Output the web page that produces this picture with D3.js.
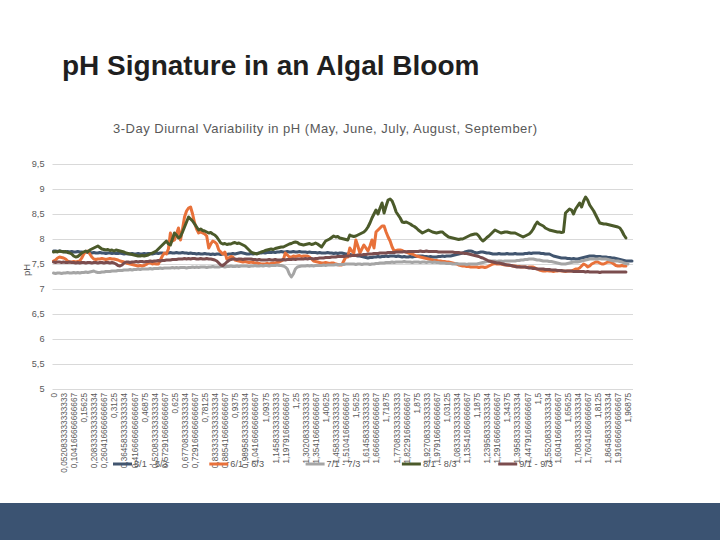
<!DOCTYPE html>
<html lang="en">
<head>
<meta charset="UTF-8">
<title>pH Signature in an Algal Bloom</title>
<script src="https://d3js.org/d3.v7.min.js"></script>
<style>
    body { margin: 0; background: #fff; font-family: "Liberation Sans", Arial, sans-serif; }
    #chart { display: block; }
    .grid line { stroke: #d9d9d9; stroke-width: 1px; }
    .grid path { display: none; }
    .axis path { display: none; }
    .axis text { fill: #595959; }
    .series { fill: none; stroke-width: 3px; stroke-linejoin: round; stroke-linecap: round; }
</style>
</head>
<body>
<svg id="chart" width="720" height="540"></svg>
<script>
// 15-minute readings over 3 days, labels every 5th reading
const nPoints = 288;
const labelEvery = 5;

const xTickLabels = [
    "0", "0,0520833333333333", "0,104166666666667", "0,15625", "0,208333333333334",
    "0,260416666666667", "0,3125", "0,364583333333334", "0,416666666666667", "0,46875",
    "0,520833333333334", "0,572916666666667", "0,625", "0,677083333333334", "0,729166666666667",
    "0,78125", "0,833333333333334", "0,885416666666667", "0,9375", "0,989583333333334",
    "1,04166666666667", "1,09375", "1,14583333333333", "1,19791666666667", "1,25",
    "1,30208333333333", "1,35416666666667", "1,40625", "1,45833333333333", "1,51041666666667",
    "1,5625", "1,61458333333333", "1,66666666666667", "1,71875", "1,77083333333333",
    "1,82291666666667", "1,875", "1,92708333333333", "1,97916666666667",
    "1,03125", "1,08333333333334", "1,13541666666667", "1,1875", "1,23958333333334",
    "1,29166666666667", "1,34375", "1,39583333333334", "1,44791666666667", "1,5",
    "1,55208333333334", "1,60416666666667", "1,65625", "1,70833333333334", "1,76041666666667",
    "1,8125", "1,86458333333334", "1,91666666666667", "1,96875"
];

const yTicks = [5, 5.5, 6, 6.5, 7, 7.5, 8, 8.5, 9, 9.5];

const seriesNames = ["5/1 - 5/3", "6/1 - 6/3", "7/1 - 7/3", "8/1 - 8/3", "9/1 - 9/3"];
const seriesColors = ["#41556f", "#e8713a", "#a5a5a5", "#4b5a2a", "#7b4d4e"];

const may = [
    7.76, 7.76, 7.75, 7.76, 7.75, 7.75, 7.74, 7.75, 7.74, 7.75, 7.74, 7.74,
    7.75, 7.74, 7.74, 7.73, 7.74, 7.73, 7.73, 7.72, 7.73, 7.72, 7.72, 7.73,
    7.72, 7.72, 7.71, 7.72, 7.72, 7.71, 7.72, 7.71, 7.71, 7.72, 7.71, 7.70,
    7.71, 7.70, 7.70, 7.71, 7.70, 7.70, 7.71, 7.70, 7.70, 7.71, 7.70, 7.71,
    7.71, 7.70, 7.71, 7.72, 7.71, 7.72, 7.72, 7.71, 7.72, 7.72, 7.73, 7.72,
    7.72, 7.73, 7.72, 7.72, 7.73, 7.72, 7.72, 7.71, 7.72, 7.71, 7.71, 7.70,
    7.71, 7.70, 7.70, 7.71, 7.70, 7.70, 7.69, 7.70, 7.69, 7.70, 7.70, 7.69,
    7.70, 7.70, 7.69, 7.70, 7.70, 7.71, 7.70, 7.71, 7.72, 7.73, 7.72, 7.71,
    7.70, 7.70, 7.71, 7.70, 7.71, 7.71, 7.72, 7.72, 7.73, 7.72, 7.73, 7.73,
    7.73, 7.74, 7.73, 7.74, 7.74, 7.75, 7.74, 7.74, 7.75, 7.74, 7.74, 7.75,
    7.74, 7.74, 7.75, 7.74, 7.74, 7.74, 7.73, 7.74, 7.73, 7.73, 7.73, 7.72,
    7.73, 7.72, 7.72, 7.72, 7.73, 7.72, 7.72, 7.71, 7.72, 7.71, 7.72, 7.72,
    7.71, 7.70, 7.70, 7.69, 7.68, 7.68, 7.67, 7.66, 7.66, 7.65, 7.64, 7.63,
    7.62, 7.63, 7.63, 7.64, 7.64, 7.65, 7.64, 7.65, 7.65, 7.66, 7.65, 7.66,
    7.66, 7.66, 7.65, 7.66, 7.65, 7.64, 7.65, 7.64, 7.64, 7.65, 7.64, 7.65,
    7.65, 7.66, 7.66, 7.66, 7.65, 7.65, 7.64, 7.65, 7.64, 7.64, 7.64, 7.65,
    7.65, 7.66, 7.65, 7.66, 7.66, 7.66, 7.67, 7.68, 7.69, 7.70, 7.71, 7.72,
    7.74, 7.75, 7.76, 7.76, 7.75, 7.73, 7.72, 7.73, 7.74, 7.74, 7.73, 7.72,
    7.72, 7.71, 7.70, 7.70, 7.70, 7.71, 7.70, 7.70, 7.70, 7.71, 7.70, 7.70,
    7.70, 7.71, 7.70, 7.70, 7.70, 7.70, 7.71, 7.71, 7.72, 7.71, 7.72, 7.72,
    7.72, 7.72, 7.71, 7.71, 7.70, 7.70, 7.70, 7.68, 7.66, 7.65, 7.64, 7.63,
    7.62, 7.62, 7.62, 7.61, 7.61, 7.60, 7.61, 7.60, 7.60, 7.61, 7.62, 7.63,
    7.64, 7.65, 7.66, 7.66, 7.66, 7.65, 7.65, 7.65, 7.64, 7.64, 7.64, 7.63,
    7.63, 7.62, 7.62, 7.61, 7.60, 7.59, 7.58, 7.57, 7.56, 7.56, 7.56, 7.56
];

const june = [
    7.56, 7.58, 7.62, 7.64, 7.63, 7.62, 7.60, 7.56, 7.54, 7.54, 7.55, 7.54,
    7.55, 7.56, 7.62, 7.70, 7.74, 7.76, 7.70, 7.64, 7.60, 7.59, 7.60, 7.60,
    7.61, 7.60, 7.59, 7.60, 7.61, 7.60, 7.60, 7.59, 7.58, 7.56, 7.55, 7.54,
    7.52, 7.51, 7.50, 7.49, 7.48, 7.47, 7.46, 7.47, 7.46, 7.47, 7.49, 7.52,
    7.52, 7.50, 7.51, 7.50, 7.50, 7.58, 7.66, 7.72, 7.70, 7.80, 8.12, 7.96,
    7.98, 8.10, 8.22, 7.98, 8.20, 8.44, 8.56, 8.62, 8.64, 8.50, 8.32, 8.20,
    8.12, 8.14, 8.12, 8.10, 8.06, 7.82, 7.90, 7.96, 7.94, 7.90, 7.78, 7.74,
    7.70, 7.74, 7.60, 7.62, 7.65, 7.64, 7.58, 7.57, 7.56, 7.55, 7.54, 7.55,
    7.54, 7.53, 7.54, 7.53, 7.52, 7.52, 7.51, 7.50, 7.50, 7.50, 7.51, 7.50,
    7.51, 7.52, 7.52, 7.53, 7.54, 7.56, 7.58, 7.72, 7.68, 7.64, 7.64, 7.66,
    7.65, 7.66, 7.67, 7.65, 7.66, 7.66, 7.66, 7.64, 7.60, 7.56, 7.55, 7.54,
    7.53, 7.52, 7.52, 7.53, 7.52, 7.51, 7.52, 7.52, 7.50, 7.49, 7.48, 7.48,
    7.56, 7.64, 7.64, 7.82, 7.76, 7.72, 7.98, 7.86, 7.72, 7.80, 7.88, 7.82,
    7.76, 7.86, 7.98, 7.82, 8.14, 8.18, 8.22, 8.26, 8.26, 8.14, 8.04, 7.96,
    7.84, 7.76, 7.77, 7.78, 7.78, 7.77, 7.75, 7.74, 7.72, 7.71, 7.70, 7.68,
    7.66, 7.65, 7.64, 7.63, 7.62, 7.61, 7.60, 7.59, 7.58, 7.57, 7.57, 7.56,
    7.56, 7.55, 7.55, 7.54, 7.54, 7.53, 7.52, 7.51, 7.50, 7.48, 7.47, 7.46,
    7.46, 7.45, 7.45, 7.44, 7.44, 7.44, 7.44, 7.43, 7.44, 7.44, 7.43, 7.44,
    7.46, 7.48, 7.50, 7.51, 7.50, 7.50, 7.50, 7.49, 7.48, 7.48, 7.47, 7.47,
    7.46, 7.46, 7.45, 7.45, 7.44, 7.44, 7.44, 7.43, 7.44, 7.44, 7.44, 7.42,
    7.40, 7.38, 7.37, 7.36, 7.36, 7.37, 7.36, 7.36, 7.35, 7.36, 7.36, 7.37,
    7.36, 7.36, 7.35, 7.36, 7.36, 7.36, 7.38, 7.40, 7.40, 7.42, 7.46, 7.50,
    7.48, 7.44, 7.46, 7.50, 7.52, 7.54, 7.54, 7.52, 7.50, 7.50, 7.52, 7.54,
    7.54, 7.53, 7.50, 7.47, 7.46, 7.46, 7.47, 7.46, 7.46
];

const july = [
    7.32, 7.31, 7.32, 7.32, 7.31, 7.32, 7.32, 7.33, 7.32, 7.32, 7.33, 7.32,
    7.33, 7.32, 7.33, 7.33, 7.34, 7.33, 7.34, 7.35, 7.36, 7.34, 7.33, 7.33,
    7.34, 7.34, 7.35, 7.35, 7.35, 7.36, 7.36, 7.36, 7.37, 7.37, 7.37, 7.38,
    7.38, 7.38, 7.39, 7.38, 7.39, 7.39, 7.40, 7.39, 7.40, 7.40, 7.40, 7.40,
    7.41, 7.40, 7.41, 7.41, 7.41, 7.42, 7.41, 7.42, 7.42, 7.42, 7.42, 7.43,
    7.42, 7.43, 7.42, 7.43, 7.43, 7.43, 7.42, 7.43, 7.43, 7.44, 7.43, 7.44,
    7.43, 7.44, 7.44, 7.44, 7.43, 7.44, 7.44, 7.45, 7.44, 7.44, 7.44, 7.45,
    7.45, 7.44, 7.45, 7.45, 7.46, 7.45, 7.45, 7.46, 7.45, 7.46, 7.46, 7.46,
    7.46, 7.45, 7.46, 7.46, 7.47, 7.46, 7.46, 7.47, 7.46, 7.47, 7.47, 7.46,
    7.47, 7.47, 7.47, 7.48, 7.47, 7.47, 7.46, 7.44, 7.40, 7.30, 7.24, 7.30,
    7.40, 7.44, 7.45, 7.46, 7.46, 7.46, 7.47, 7.46, 7.47, 7.46, 7.47, 7.47,
    7.47, 7.47, 7.48, 7.47, 7.48, 7.48, 7.48, 7.48, 7.49, 7.48, 7.49, 7.49,
    7.49, 7.50, 7.50, 7.50, 7.50, 7.50, 7.49, 7.50, 7.50, 7.49, 7.50, 7.50,
    7.50, 7.49, 7.50, 7.50, 7.51, 7.51, 7.52, 7.52, 7.52, 7.53, 7.53, 7.53,
    7.54, 7.53, 7.54, 7.54, 7.54, 7.54, 7.55, 7.54, 7.54, 7.54, 7.53, 7.54,
    7.54, 7.54, 7.53, 7.54, 7.54, 7.53, 7.54, 7.54, 7.53, 7.54, 7.53, 7.53,
    7.52, 7.52, 7.52, 7.51, 7.51, 7.51, 7.50, 7.50, 7.51, 7.50, 7.50, 7.50,
    7.50, 7.49, 7.50, 7.50, 7.50, 7.50, 7.50, 7.51, 7.52, 7.53, 7.54, 7.55,
    7.55, 7.56, 7.56, 7.56, 7.55, 7.56, 7.56, 7.55, 7.56, 7.56, 7.56, 7.56,
    7.56, 7.56, 7.57, 7.57, 7.58, 7.58, 7.59, 7.59, 7.60, 7.60, 7.60, 7.59,
    7.58, 7.58, 7.57, 7.56, 7.56, 7.56, 7.55, 7.55, 7.54, 7.53, 7.52, 7.51,
    7.50, 7.50, 7.50, 7.51, 7.52, 7.53, 7.54, 7.54, 7.54, 7.55, 7.56, 7.57,
    7.58, 7.59, 7.60, 7.60, 7.60, 7.60, 7.60, 7.61, 7.60, 7.60, 7.60, 7.59,
    7.58, 7.57, 7.56, 7.56, 7.56, 7.55, 7.54, 7.52, 7.51, 7.50
];

const august = [
    7.74, 7.75, 7.74, 7.76, 7.75, 7.74, 7.75, 7.73, 7.72, 7.70, 7.66, 7.64,
    7.65, 7.68, 7.72, 7.74, 7.76, 7.74, 7.78, 7.80, 7.82, 7.84, 7.86, 7.83,
    7.80, 7.79, 7.78, 7.79, 7.77, 7.78, 7.76, 7.78, 7.77, 7.76, 7.75, 7.74,
    7.72, 7.71, 7.70, 7.69, 7.68, 7.67, 7.66, 7.66, 7.67, 7.66, 7.67, 7.68,
    7.70, 7.72, 7.74, 7.76, 7.80, 7.84, 7.88, 7.92, 7.96, 7.90, 7.88, 8.00,
    8.12, 8.08, 8.02, 8.05, 8.14, 8.24, 8.34, 8.44, 8.40, 8.36, 8.30, 8.24,
    8.18, 8.20, 8.17, 8.16, 8.14, 8.12, 8.13, 8.10, 8.08, 8.04, 7.98, 7.92,
    7.90, 7.91, 7.89, 7.90, 7.90, 7.92, 7.93, 7.91, 7.92, 7.90, 7.88, 7.86,
    7.82, 7.78, 7.74, 7.72, 7.71, 7.70, 7.72, 7.74, 7.75, 7.77, 7.78, 7.79,
    7.80, 7.79, 7.81, 7.82, 7.83, 7.84, 7.84, 7.86, 7.88, 7.90, 7.91, 7.93,
    7.94, 7.93, 7.90, 7.89, 7.88, 7.89, 7.90, 7.91, 7.89, 7.90, 7.92, 7.90,
    7.87, 7.84, 7.90, 7.96, 7.98, 8.00, 8.03, 8.06, 8.04, 8.05, 8.02, 8.01,
    8.00, 7.99, 7.98, 8.08, 8.06, 8.05, 8.06, 8.08, 8.10, 8.12, 8.14, 8.18,
    8.24, 8.32, 8.42, 8.50, 8.58, 8.50, 8.62, 8.72, 8.52, 8.66, 8.78, 8.80,
    8.76, 8.66, 8.54, 8.48, 8.42, 8.34, 8.33, 8.34, 8.32, 8.30, 8.27, 8.25,
    8.22, 8.18, 8.15, 8.12, 8.14, 8.16, 8.18, 8.16, 8.14, 8.13, 8.12, 8.13,
    8.14, 8.14, 8.10, 8.07, 8.04, 8.03, 8.02, 8.01, 8.00, 7.99, 8.00, 8.00,
    8.02, 8.04, 8.06, 8.08, 8.09, 8.10, 8.10, 8.06, 8.00, 7.96, 7.99, 8.03,
    8.06, 8.10, 8.14, 8.18, 8.16, 8.14, 8.12, 8.13, 8.14, 8.14, 8.13, 8.12,
    8.12, 8.12, 8.10, 8.08, 8.06, 8.04, 8.06, 8.08, 8.10, 8.14, 8.20, 8.28,
    8.34, 8.30, 8.28, 8.26, 8.22, 8.20, 8.18, 8.17, 8.16, 8.15, 8.14, 8.14,
    8.13, 8.14, 8.52, 8.56, 8.60, 8.58, 8.50, 8.60, 8.66, 8.72, 8.64, 8.76,
    8.84, 8.78, 8.68, 8.62, 8.56, 8.48, 8.40, 8.32, 8.31, 8.30, 8.30, 8.29,
    8.28, 8.27, 8.26, 8.25, 8.24, 8.22, 8.16, 8.08, 8.02
];

const september = [
    7.54, 7.53, 7.54, 7.54, 7.53, 7.54, 7.53, 7.53, 7.54, 7.53, 7.53, 7.52,
    7.53, 7.52, 7.53, 7.53, 7.52, 7.53, 7.53, 7.52, 7.53, 7.53, 7.52, 7.53,
    7.53, 7.52, 7.53, 7.53, 7.52, 7.53, 7.52, 7.50, 7.47, 7.46, 7.48, 7.52,
    7.54, 7.54, 7.53, 7.54, 7.54, 7.55, 7.54, 7.55, 7.55, 7.54, 7.55, 7.55,
    7.56, 7.55, 7.56, 7.56, 7.57, 7.56, 7.57, 7.57, 7.58, 7.58, 7.58, 7.59,
    7.59, 7.59, 7.60, 7.60, 7.60, 7.61, 7.60, 7.61, 7.60, 7.61, 7.61, 7.60,
    7.60, 7.61, 7.60, 7.60, 7.61, 7.60, 7.60, 7.59, 7.58, 7.56, 7.52, 7.48,
    7.47, 7.50, 7.54, 7.57, 7.59, 7.60, 7.60, 7.59, 7.60, 7.60, 7.59, 7.60,
    7.60, 7.60, 7.60, 7.59, 7.59, 7.58, 7.59, 7.58, 7.58, 7.58, 7.58, 7.59,
    7.58, 7.58, 7.59, 7.58, 7.58, 7.58, 7.59, 7.58, 7.59, 7.59, 7.59, 7.60,
    7.59, 7.60, 7.60, 7.60, 7.60, 7.61, 7.60, 7.61, 7.61, 7.60, 7.61, 7.61,
    7.62, 7.62, 7.62, 7.63, 7.63, 7.63, 7.64, 7.64, 7.64, 7.65, 7.65, 7.65,
    7.65, 7.66, 7.66, 7.66, 7.67, 7.67, 7.67, 7.68, 7.68, 7.68, 7.69, 7.69,
    7.70, 7.70, 7.70, 7.71, 7.71, 7.71, 7.72, 7.72, 7.72, 7.72, 7.73, 7.73,
    7.73, 7.73, 7.74, 7.74, 7.74, 7.74, 7.75, 7.74, 7.75, 7.75, 7.75, 7.75,
    7.75, 7.75, 7.76, 7.75, 7.75, 7.76, 7.75, 7.75, 7.75, 7.75, 7.75, 7.74,
    7.74, 7.74, 7.74, 7.74, 7.74, 7.74, 7.74, 7.73, 7.73, 7.73, 7.72, 7.72,
    7.71, 7.71, 7.70, 7.69, 7.68, 7.67, 7.66, 7.65, 7.63, 7.62, 7.60, 7.58,
    7.56, 7.55, 7.54, 7.53, 7.52, 7.52, 7.51, 7.50, 7.49, 7.48, 7.48, 7.47,
    7.46, 7.45, 7.44, 7.44, 7.44, 7.44, 7.44, 7.43, 7.42, 7.42, 7.41, 7.41,
    7.40, 7.40, 7.40, 7.40, 7.39, 7.39, 7.39, 7.38, 7.38, 7.38, 7.37, 7.37,
    7.37, 7.36, 7.36, 7.36, 7.36, 7.36, 7.35, 7.35, 7.35, 7.35, 7.35, 7.35,
    7.34, 7.35, 7.34, 7.34, 7.34, 7.34, 7.34, 7.33, 7.34, 7.34, 7.34, 7.34,
    7.34, 7.34, 7.34, 7.34, 7.34, 7.34, 7.34, 7.34, 7.34
];

const allSeries = [may, june, july, august, september];

const svg = d3.select('#chart');

// plot area
const plot = { left: 52.5, right: 633, top: 164, bottom: 389 };

const x = d3.scalePoint()
    .domain(d3.range(nPoints))
    .range([plot.left, plot.right])
    .padding(0.5);

const y = d3.scaleLinear()
    .domain([5, 9.5])
    .range([plot.bottom, plot.top]);

const comma = v => String(v).replace('.', ',');

// title + subtitle
svg.append('text')
    .attr('x', 62).attr('y', 75)
    .attr('font-size', 28).attr('font-weight', 'bold')
    .attr('fill', '#1f1f1f')
    .text('pH Signature in an Algal Bloom');

svg.append('text')
    .attr('x', 113).attr('y', 133)
    .attr('font-size', 13)
    .attr('fill', '#595959')
    .attr('textLength', 424)
    .attr('lengthAdjust', 'spacing')
    .text('3-Day Diurnal Variability in pH (May, June, July, August, September)');

// horizontal gridlines
svg.append('g')
    .attr('class', 'grid')
    .attr('transform', `translate(${plot.left},0)`)
    .call(d3.axisLeft(y).tickValues(yTicks).tickSize(-(plot.right - plot.left)).tickFormat(''));

// y axis labels
const yAxis = svg.append('g')
    .attr('class', 'axis')
    .attr('transform', `translate(${plot.left},0)`)
    .call(d3.axisLeft(y).tickValues(yTicks).tickSize(0).tickPadding(8).tickFormat(comma));
yAxis.selectAll('text').attr('font-size', 9.2).attr('font-family', '"Liberation Sans", Arial, sans-serif');

svg.append('text')
    .attr('transform', 'translate(30,270) rotate(-90)')
    .attr('text-anchor', 'middle')
    .attr('font-size', 9.5)
    .attr('fill', '#595959')
    .text('pH');

// x axis labels (every 5th category)
const xAxis = svg.append('g')
    .attr('class', 'axis')
    .attr('transform', `translate(0,${plot.bottom})`)
    .call(d3.axisBottom(x)
        .tickValues(d3.range(0, nPoints, labelEvery).slice(0, xTickLabels.length))
        .tickSize(0)
        .tickFormat(i => xTickLabels[i / labelEvery]));
xAxis.selectAll('line').remove();
xAxis.selectAll('text')
    .attr('font-size', 8.2)
    .attr('font-family', '"Liberation Sans", Arial, sans-serif')
    .attr('text-anchor', 'end')
    .attr('transform', 'rotate(-90)')
    .attr('x', -4)
    .attr('y', 0)
    .attr('dy', '0.35em');

// lines
const line = d3.line()
    .x((d, i) => x(i))
    .y(d => y(d));

svg.append('g')
    .selectAll('path')
    .data(allSeries)
    .join('path')
    .attr('class', 'series')
    .attr('stroke', (d, i) => seriesColors[i])
    .attr('d', line);

// legend
const legend = svg.append('g')
    .selectAll('g')
    .data(seriesNames)
    .join('g')
    .attr('transform', (d, i) => `translate(${113 + i * 96.3},464)`);

legend.append('line')
    .attr('x1', 0).attr('x2', 19)
    .attr('stroke', (d, i) => seriesColors[i])
    .attr('stroke-width', 3);

legend.append('text')
    .attr('x', 21).attr('dy', '0.35em')
    .attr('font-size', 9.2)
    .attr('fill', '#595959')
    .text(d => d);

// footer band
svg.append('rect')
    .attr('x', 0).attr('y', 503)
    .attr('width', 720).attr('height', 37)
    .attr('fill', '#3b5372');
</script>
</body>
</html>
